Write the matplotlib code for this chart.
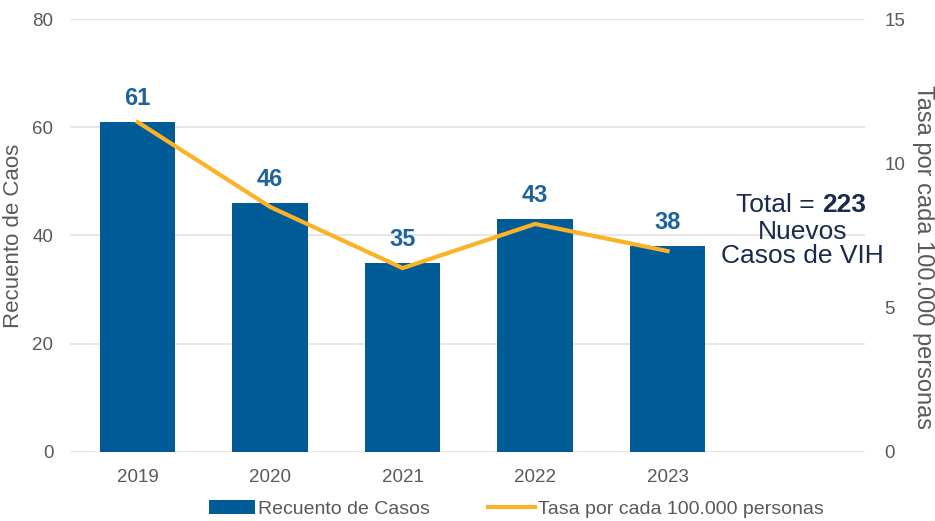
import matplotlib
matplotlib.use('Agg')
import matplotlib.pyplot as plt
from matplotlib.patches import Patch
from matplotlib.lines import Line2D

years = ['2019', '2020', '2021', '2022', '2023']
casos = [61, 46, 35, 43, 38]
tasa = [11.43, 8.49, 6.37, 7.9, 6.96]

blue = '#005b96'
orange = '#fbb226'
grey = '#595959'
navy = '#1b2a4a'

plt.rcParams['font.family'] = ['Liberation Sans', 'DejaVu Sans']

fig = plt.figure(figsize=(9.35, 5.21), dpi=100)
ax = fig.add_axes([0.075, 0.1325, 0.85, 0.831])
x = list(range(len(years)))
ax.bar(x, casos, width=0.57, color=blue, zorder=3)
for xi, v in zip(x, casos):
    ax.text(xi, v + 2.2, str(v), ha='center', va='bottom', fontsize=17,
            fontweight='bold', color='#1f639e', zorder=5)
ax.set_xlim(-0.51, 5.49)
ax.set_ylim(0, 80)
ax.set_yticks([0, 20, 40, 60, 80])
ax.set_xticks(x)
ax.set_xticklabels(years)
ax.grid(axis='y', color='#e3e3e3', linewidth=1.2, zorder=0)
for s in ax.spines.values():
    s.set_visible(False)
ax.tick_params(axis='y', length=0, labelsize=13.5, colors=grey, pad=12)
ax.tick_params(axis='x', length=0, labelsize=13.5, colors=grey, pad=12)
ax.set_ylabel('Recuento de Caos', fontsize=16, color=grey, labelpad=6)

ax2 = ax.twinx()
ax2.plot(x, tasa, color=orange, linewidth=3, zorder=4)
ax2.set_ylim(0, 15)
ax2.set_yticks([0, 5, 10, 15])
for s in ax2.spines.values():
    s.set_visible(False)
ax2.tick_params(axis='y', length=0, labelsize=13.5, colors=grey, pad=14)
fig.text(923 / 935, 1 - 257 / 521, 'Tasa por cada 100.000 personas',
         rotation=270, ha='center', va='center', fontsize=17, color=grey)

# anotacion del total
t1 = ax.text(5.17, 45.6, 'Total = ', ha='right', va='center', fontsize=19,
             color=navy, zorder=6)
ax.annotate('223', xy=(1, 0), xycoords=t1, va='bottom', ha='left',
            fontsize=19, fontweight='bold', color=navy, zorder=6)
ax.text(5.02, 40.6, 'Nuevos', ha='center', va='center', fontsize=19,
        color=navy, zorder=6)
ax.text(5.02, 36.3, 'Casos de VIH', ha='center', va='center', fontsize=19,
        color=navy, zorder=6)

handles = [Patch(facecolor=blue, label='Recuento de Casos'),
           Line2D([0], [0], color=orange, linewidth=3, label='Tasa por cada 100.000 personas')]
fig.legend(handles=handles, loc='lower center', bbox_to_anchor=(0.552, -0.028),
           ncol=2, frameon=False, fontsize=14, labelcolor=grey,
           handlelength=2.4, handletextpad=0.15, columnspacing=3)

fig.savefig('out.png', dpi=100)
